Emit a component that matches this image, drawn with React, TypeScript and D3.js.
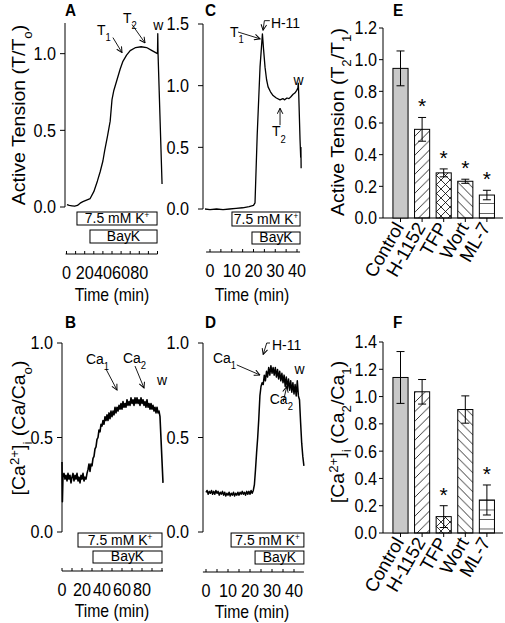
import React, { useEffect } from "react";
import * as d3 from "d3";

type Pt = [number, number];

const FONT = "Arial, 'Liberation Sans', Helvetica, sans-serif";
const SX = 0.9; // horizontal squeeze of the printed lettering

// ---------------- Data: time courses (time in min, normalised value) ----------------
const traceA: Pt[] = [
  [0.5, 0.015], [3, 0.01], [6, 0.008], [9, 0.005], [12, 0.01], [15, 0.025], [18, 0.035],
  [22, 0.045], [26, 0.055], [30, 0.1], [34, 0.17], [37, 0.23], [40, 0.3], [42, 0.37],
  [45, 0.46], [48, 0.56], [50, 0.7], [52, 0.76], [55.5, 0.83], [59, 0.9], [62, 0.95],
  [66, 0.99], [70, 1.02], [76, 1.04], [82, 1.045], [88, 1.04], [94, 1.02], [100, 1.0],
  [100.3, 1.13], [100.6, 1.0], [105, 0.15],
];

const traceB: Pt[] = [
  [0, 0.37], [0.4, 0.16], [1, 0.3], [2, 0.31], [3, 0.28], [4, 0.3], [5, 0.27], [6, 0.31], [7, 0.28],
  [8, 0.3], [9, 0.26], [10, 0.29], [11, 0.31], [12, 0.27], [13, 0.3], [14, 0.28], [15, 0.31],
  [16, 0.27], [17, 0.29], [18, 0.26], [19, 0.3], [20, 0.28], [21, 0.31], [22, 0.27], [23, 0.29],
  [24, 0.28], [25, 0.31], [26, 0.33], [27, 0.36], [28, 0.32], [29, 0.36], [30, 0.35], [31, 0.39],
  [32, 0.4], [33, 0.44], [34, 0.45], [35, 0.49], [36, 0.5], [37, 0.54], [38, 0.53], [39, 0.57],
  [40, 0.56], [41, 0.59], [42, 0.57], [43, 0.61], [44, 0.59], [45, 0.62], [46, 0.59], [47, 0.63],
  [48, 0.6], [49, 0.64], [50, 0.61], [51, 0.64], [52, 0.62], [53, 0.66], [54, 0.63], [55, 0.66],
  [56, 0.64], [57, 0.67], [58, 0.65], [59, 0.68], [60, 0.65], [61, 0.69], [62, 0.66], [63, 0.68],
  [64, 0.66], [65, 0.7], [66, 0.67], [67, 0.69], [68, 0.67], [69, 0.71], [70, 0.68], [71, 0.7],
  [72, 0.67], [73, 0.71], [74, 0.68], [75, 0.71], [76, 0.68], [77, 0.7], [78, 0.67], [79, 0.71],
  [80, 0.68], [81, 0.7], [82, 0.67], [83, 0.69], [84, 0.66], [85, 0.7], [86, 0.66], [87, 0.68],
  [88, 0.65], [89, 0.68], [90, 0.65], [91, 0.67], [92, 0.64], [93, 0.66], [94, 0.63], [95, 0.66],
  [96, 0.63], [97, 0.64], [98, 0.61], [101, 0.26],
];

const traceC: Pt[] = [
  [-2.3, 0.0], [0, -0.005], [3, 0.0], [6, -0.005], [9, 0.0], [12, 0.005], [15, 0.01], [18, 0.02],
  [20, 0.03], [20.7, 0.05], [21.7, 0.6], [23, 1.15], [24.1, 1.42], [24.6, 1.3], [25.3, 1.15],
  [26, 1.05], [26.7, 0.99], [27.8, 0.95], [29, 0.92], [30.5, 0.9], [32.2, 0.885], [33.5, 0.895],
  [34.2, 0.885], [35.4, 0.9], [36.3, 0.895], [37.2, 0.91], [38.2, 0.93], [39, 0.94], [39.8, 0.96],
  [40.4, 0.98], [40.6, 1.02], [40.8, 0.93], [41.4, 0.56], [41.7, 0.42], [41.8, 0.5], [41.9, 0.33],
];

const traceD: Pt[] = [
  [0, 0.21], [0.5, 0.22], [1, 0.2], [1.5, 0.215], [2, 0.205], [2.5, 0.22], [3, 0.2], [3.5, 0.215],
  [4, 0.2], [4.5, 0.22], [5, 0.205], [5.5, 0.215], [6, 0.195], [6.5, 0.21], [7, 0.2], [7.5, 0.215],
  [8, 0.195], [8.5, 0.21], [9, 0.19], [9.5, 0.205], [10, 0.195], [10.5, 0.21], [11, 0.19],
  [11.5, 0.205], [12, 0.195], [12.5, 0.21], [13, 0.19], [13.5, 0.205], [14, 0.195], [14.5, 0.21],
  [15, 0.195], [15.5, 0.21], [16, 0.2], [16.5, 0.215], [17, 0.2], [17.5, 0.21], [18, 0.195],
  [18.5, 0.215], [19, 0.2], [19.5, 0.215], [20, 0.2], [20.5, 0.22], [21, 0.205], [21.5, 0.22],
  [22, 0.25], [22.5, 0.33], [23, 0.42], [23.5, 0.5], [24, 0.6], [24.5, 0.72], [25, 0.77],
  [25.5, 0.79], [26, 0.78], [26.5, 0.83], [27, 0.8], [27.5, 0.85], [28, 0.82], [28.5, 0.87],
  [29, 0.83], [29.5, 0.88], [30, 0.84], [30.5, 0.87], [31, 0.83], [31.5, 0.87], [32, 0.82],
  [32.5, 0.86], [33, 0.81], [33.5, 0.85], [34, 0.8], [34.5, 0.84], [35, 0.79], [35.5, 0.83],
  [36, 0.77], [36.5, 0.82], [37, 0.76], [37.5, 0.81], [38, 0.75], [38.5, 0.8], [39, 0.74],
  [39.5, 0.79], [40, 0.73], [40.5, 0.78], [41, 0.72], [41.5, 0.8], [42, 0.72], [42.5, 0.7],
  [43, 0.58], [43.5, 0.47], [44, 0.4], [44.5, 0.35],
];

// treatment windows (min)
const kWinA: Pt = [11.5, 99.5];
const bayWinA: Pt = [25.8, 99.5];
const kWinB: Pt = [16, 100];
const bayWinB: Pt = [31, 100];
const kWinC: Pt = [10.1, 41.4];
const bayWinC: Pt = [19.3, 41.4];
const kWinD: Pt = [11.4, 44.5];
const bayWinD: Pt = [22.3, 44.5];

// axis ticks
const yTicksA = [0, 0.5, 1.0];
const yTicksB = [0, 0.5, 1.0];
const yTicksC = [0, 0.5, 1.0, 1.5];
const yTicksD = [0, 0.5, 1.0];
const tTicksLong = [0, 10, 20, 30, 40, 50, 60, 70, 80, 90, 100];
const tLabelsLong = [0, 20, 40, 60, 80];
const tTicksShort = [0, 5, 10, 15, 20, 25, 30, 35, 40];
const tLabelsShort = [0, 10, 20, 30, 40];

// ---------------- Data: bar summaries ----------------
const categories = ["Control", "H-1152", "TFP", "Wort", "ML-7"];
const tensionMean = [0.945, 0.56, 0.285, 0.232, 0.145];
const tensionErr = [0.11, 0.075, 0.025, 0.013, 0.03];
const tensionSig = [false, true, true, true, true];
const calciumMean = [1.14, 1.035, 0.12, 0.905, 0.242];
const calciumErr = [0.19, 0.09, 0.08, 0.1, 0.11];
const calciumSig = [false, false, true, false, true];
const yTicksE = [0, 0.2, 0.4, 0.6, 0.8, 1.0, 1.2];
const yTicksF = [0, 0.2, 0.4, 0.6, 0.8, 1.0, 1.2, 1.4];

// ---------------- Annotations (data coordinates) ----------------
type Note = { text: string; sub?: string; t: number; v: number; anchor?: string };
const notesA: Note[] = [
  { text: "T", sub: "1", t: 33.5, v: 1.124 },
  { text: "T", sub: "2", t: 62, v: 1.203 },
  { text: "w", t: 101, v: 1.157, anchor: "middle" },
];
const arrowsA: Pt[][] = [
  [[51, 1.105], [61, 1.007]],
  [[72, 1.19], [86.3, 1.07]],
];
const notesB: Note[] = [
  { text: "Ca", sub: "1", t: 24, v: 0.89 },
  { text: "Ca", sub: "2", t: 61, v: 0.894 },
  { text: "w", t: 100, v: 0.778, anchor: "middle" },
];
const arrowsB: Pt[][] = [
  [[44, 0.862], [55, 0.751]],
  [[73, 0.878], [82, 0.762]],
];
const notesC: Note[] = [
  { text: "T", sub: "1", t: 9.2, v: 1.395 },
  { text: "H-11", t: 28, v: 1.468 },
  { text: "w", t: 40.7, v: 1.006, anchor: "middle" },
  { text: "T", sub: "2", t: 28.5, v: 0.59 },
];
const arrowsC: Pt[][] = [
  [[12.9, 1.435], [23, 1.38]],
  [[27.5, 1.527], [25, 1.527], [24.4, 1.45]],
  [[32.2, 0.68], [32.2, 0.817]],
];
const notesD: Note[] = [
  { text: "Ca", sub: "1", t: 3.2, v: 0.894 },
  { text: "H-11", t: 30, v: 0.963 },
  { text: "w", t: 42.5, v: 0.836, anchor: "middle" },
  { text: "Ca", sub: "2", t: 29, v: 0.677 },
];
const arrowsD: Pt[][] = [
  [[14, 0.884], [24.5, 0.831]],
  [[29.1, 1.0], [27.6, 1.0], [26, 0.94]],
  [[35.1, 0.689], [36.7, 0.769]],
];

// ---------------- Components ----------------
function Sub({ children }: { children: React.ReactNode }) {
  return (
    <tspan baselineShift="sub" fontSize="68%">
      {children}
    </tspan>
  );
}
function Sup({ children }: { children: React.ReactNode }) {
  return (
    <tspan baselineShift="super" fontSize="68%">
      {children}
    </tspan>
  );
}

function HText(props: {
  x: number;
  y: number;
  size: number;
  anchor?: string;
  dy?: string;
  weight?: string;
  rotate?: number;
  children: React.ReactNode;
}) {
  const rot = props.rotate ? ` rotate(${props.rotate})` : "";
  return (
    <text
      transform={`translate(${props.x},${props.y}) scale(${SX},1)${rot}`}
      fontSize={props.size}
      textAnchor={props.anchor || "start"}
      dy={props.dy}
      fontWeight={props.weight}
    >
      {props.children}
    </text>
  );
}

type TraceProps = {
  trace: Pt[];
  yDomain: Pt;
  yRange: Pt;
  yAxisX: number;
  yTicks: number[];
  yLabelGap: number;
  tDomain: Pt;
  tRange: Pt;
  tAxisY: number;
  tAxisExtent: Pt;
  tTicks: number[];
  tLabels: number[];
  kWin: Pt;
  bayWin: Pt;
  kBoxY: Pt;
  bayBoxY: Pt;
  notes: Note[];
  arrows: Pt[][];
  letter: string;
  letterPos: Pt;
  yTitle: React.ReactNode;
  yTitlePos: Pt;
  tTitlePos: Pt;
  strokeW: number;
};

function TracePanel(p: TraceProps) {
  const y = d3.scaleLinear().domain(p.yDomain).range(p.yRange);
  const t = d3.scaleLinear().domain(p.tDomain).range(p.tRange);
  const line = d3
    .line<Pt>()
    .x((d) => t(d[0]))
    .y((d) => y(d[1]));
  const fmt = d3.format(".1f");
  return (
    <g>
      {/* y axis */}
      <line x1={p.yAxisX} x2={p.yAxisX} y1={y(p.yDomain[0])} y2={y(p.yDomain[1])} stroke="#000" strokeWidth={1} />
      {p.yTicks.map((v) => (
        <g key={v}>
          <line x1={p.yAxisX - 5} x2={p.yAxisX} y1={y(v)} y2={y(v)} stroke="#000" />
          <HText x={p.yAxisX - p.yLabelGap} y={y(v)} dy="0.36em" anchor="end" size={18}>
            {fmt(v)}
          </HText>
        </g>
      ))}
      {/* trace */}
      <path d={line(p.trace) || ""} fill="none" stroke="#000" strokeWidth={p.strokeW} strokeLinejoin="round" />
      {/* treatment boxes */}
      <rect x={t(p.kWin[0])} y={p.kBoxY[0]} width={t(p.kWin[1]) - t(p.kWin[0])} height={p.kBoxY[1] - p.kBoxY[0]} fill="#fff" stroke="#000" />
      <HText x={(t(p.kWin[0]) + t(p.kWin[1])) / 2} y={p.kBoxY[1] - 2} anchor="middle" size={15.5}>
        7.5 mM K<tspan baselineShift="super" fontSize="58%">+</tspan>
      </HText>
      <rect x={t(p.bayWin[0])} y={p.bayBoxY[0]} width={t(p.bayWin[1]) - t(p.bayWin[0])} height={p.bayBoxY[1] - p.bayBoxY[0]} fill="#fff" stroke="#000" />
      <HText x={(t(p.bayWin[0]) + t(p.bayWin[1])) / 2} y={p.bayBoxY[1] - 2} anchor="middle" size={15.5}>
        BayK
      </HText>
      {/* time axis */}
      <line x1={t(p.tAxisExtent[0])} x2={t(p.tAxisExtent[1])} y1={p.tAxisY} y2={p.tAxisY} stroke="#000" />
      {p.tTicks.map((v) => (
        <line key={v} x1={t(v)} x2={t(v)} y1={p.tAxisY} y2={p.tAxisY - 3} stroke="#000" />
      ))}
      {p.tLabels.map((v) => (
        <HText key={v} x={t(v)} y={p.tAxisY + 25} anchor="middle" size={18}>
          {v}
        </HText>
      ))}
      <HText x={p.tTitlePos[0]} y={p.tTitlePos[1]} anchor="middle" size={17.5}>
        Time (min)
      </HText>
      {/* annotations */}
      {p.notes.map((n, i) => (
        <HText key={i} x={t(n.t)} y={y(n.v)} anchor={n.anchor || "start"} size={15.5}>
          {n.text}
          {n.sub ? <Sub>{n.sub}</Sub> : null}
        </HText>
      ))}
      {p.arrows.map((a, i) => (
        <path key={i} d={line(a) || ""} fill="none" stroke="#000" strokeWidth={0.9} markerEnd="url(#arrowHead)" />
      ))}
      {/* panel letter & y title */}
      <HText x={p.letterPos[0]} y={p.letterPos[1]} size={17} weight="bold">
        {p.letter}
      </HText>
      {p.yTitle ? (
        <HText x={p.yTitlePos[0]} y={p.yTitlePos[1]} anchor="middle" dy="0.35em" size={19.5} rotate={-90}>
          {p.yTitle}
        </HText>
      ) : null}
    </g>
  );
}

type BarProps = {
  means: number[];
  errs: number[];
  sig: boolean[];
  yDomain: Pt;
  yRange: Pt;
  yTicks: number[];
  axisX: number;
  axisEnd: number;
  letter: string;
  letterPos: Pt;
  yTitle: React.ReactNode;
  yTitlePos: Pt;
  suffix: string;
};

const barFills = ["#c8c8c8", "url(#pFwd)", "url(#pCross)", "url(#pBack)", "url(#pHoriz)"];

function BarPanel(p: BarProps) {
  const y = d3.scaleLinear().domain(p.yDomain).range(p.yRange);
  const x = d3.scaleBand<string>().domain(categories).range([389.7, 497.7]).paddingInner(0.3).paddingOuter(0.15);
  const fmt = d3.format(".1f");
  const y0 = y(0);
  return (
    <g>
      <line x1={p.axisX} x2={p.axisX} y1={y(p.yDomain[0])} y2={y(p.yDomain[1])} stroke="#000" />
      {p.yTicks.map((v) => (
        <g key={v}>
          <line x1={p.axisX - 4} x2={p.axisX} y1={y(v)} y2={y(v)} stroke="#000" />
          <HText x={p.axisX - 6} y={y(v)} dy="0.36em" anchor="end" size={18}>
            {fmt(v)}
          </HText>
        </g>
      ))}
      <line x1={p.axisX} x2={p.axisEnd} y1={y0} y2={y0} stroke="#000" />
      {categories.map((c, i) => {
        const bx = x(c) as number;
        const bw = x.bandwidth();
        const cx = bx + bw / 2;
        const m = p.means[i];
        const e = p.errs[i];
        const fill = i === 4 ? `url(#pHoriz${p.suffix})` : barFills[i];
        return (
          <g key={c}>
            <rect x={bx} y={y(m)} width={bw} height={y0 - y(m)} fill={fill} stroke="#000" strokeWidth={1} />
            <line x1={cx} x2={cx} y1={y(m - e)} y2={y(m + e)} stroke="#000" />
            <line x1={cx - 4} x2={cx + 4} y1={y(m + e)} y2={y(m + e)} stroke="#000" />
            <line x1={cx - 4} x2={cx + 4} y1={y(m - e)} y2={y(m - e)} stroke="#000" />
            <line x1={cx} x2={cx} y1={y0} y2={y0 + 4} stroke="#000" />
            {p.sig[i] ? (
              <text x={cx} y={y(m + e) - 16 + 12} textAnchor="middle" fontSize={21}>
                *
              </text>
            ) : null}
            <text
              transform={`translate(${cx + 4},${y0 + 9}) rotate(-60)`}
              textAnchor="end"
              fontSize={18.5}
            >
              {c}
            </text>
          </g>
        );
      })}
      <HText x={p.letterPos[0]} y={p.letterPos[1]} size={17} weight="bold">
        {p.letter}
      </HText>
      <HText x={p.yTitlePos[0]} y={p.yTitlePos[1]} anchor="middle" dy="0.35em" size={19.5} rotate={-90}>
        {p.yTitle}
      </HText>
    </g>
  );
}

export default function App() {
  useEffect(() => {
    document.body.style.margin = "0";
  }, []);
  const caTitle = (a: string, b: string) => (
    <>
      <tspan>[Ca</tspan>
      <Sup>2+</Sup>
      <tspan>]</tspan>
      <Sub>i</Sub>
      <tspan> (Ca</tspan>
      {a ? <Sub>{a}</Sub> : null}
      <tspan>/Ca</tspan>
      <Sub>{b}</Sub>
      <tspan>)</tspan>
    </>
  );
  return (
    <svg
      width={505}
      height={623}
      viewBox="0 0 505 623"
      style={{ position: "absolute", left: 0, top: 0, background: "#fff" }}
      fontFamily={FONT}
    >
      <defs>
        <marker id="arrowHead" viewBox="0 0 10 10" refX="9" refY="5" markerWidth="7" markerHeight="7" orient="auto" markerUnits="userSpaceOnUse">
          <path d="M1,1 L9,5 L1,9" fill="none" stroke="#000" strokeWidth={1.4} />
        </marker>
        <pattern id="pFwd" patternUnits="userSpaceOnUse" width={9.5} height={9.5}>
          <path d="M-2,2 L2,-2 M0,9.5 L9.5,0 M7.5,11.5 L11.5,7.5" stroke="#000" strokeWidth={0.8} />
        </pattern>
        <pattern id="pBack" patternUnits="userSpaceOnUse" width={9.5} height={9.5}>
          <path d="M-2,7.5 L2,11.5 M0,0 L9.5,9.5 M7.5,-2 L11.5,2" stroke="#000" strokeWidth={0.8} />
        </pattern>
        <pattern id="pCross" patternUnits="userSpaceOnUse" width={9} height={9}>
          <path d="M-2,2 L2,-2 M0,9 L9,0 M7,11 L11,7 M-2,7 L2,11 M0,0 L9,9 M7,-2 L11,2" stroke="#000" strokeWidth={0.8} />
        </pattern>
        <pattern id="pHorizE" patternUnits="userSpaceOnUse" width={8} height={10} y={3}>
          <path d="M0,0 L8,0" stroke="#000" strokeWidth={1.2} />
        </pattern>
        <pattern id="pHorizF" patternUnits="userSpaceOnUse" width={8} height={9.5} y={6}>
          <path d="M0,0 L8,0" stroke="#000" strokeWidth={1.2} />
        </pattern>
      </defs>
      <rect width={505} height={623} fill="#fff" />

      <TracePanel
        trace={traceA}
        yDomain={[0, 1.2]}
        yRange={[207, 23]}
        yAxisX={65}
        yTicks={yTicksA}
        yLabelGap={9}
        tDomain={[0, 100]}
        tRange={[66.5, 157.5]}
        tAxisY={254}
        tAxisExtent={[-1, 100]}
        tTicks={tTicksLong}
        tLabels={tLabelsLong}
        kWin={kWinA}
        bayWin={bayWinA}
        kBoxY={[212, 225]}
        bayBoxY={[230, 243]}
        notes={notesA}
        arrows={arrowsA}
        letter="A"
        letterPos={[65, 16]}
        yTitle={
          <>
            <tspan>Active Tension (T/T</tspan>
            <Sub>o</Sub>
            <tspan>)</tspan>
          </>
        }
        yTitlePos={[19, 115]}
        tTitlePos={[112, 301]}
        strokeW={1.3}
      />
      <TracePanel
        trace={traceB}
        yDomain={[0, 1]}
        yRange={[532, 343]}
        yAxisX={62}
        yTicks={yTicksB}
        yLabelGap={9}
        tDomain={[0, 100]}
        tRange={[62, 162]}
        tAxisY={571}
        tAxisExtent={[0, 101]}
        tTicks={tTicksLong}
        tLabels={tLabelsLong}
        kWin={kWinB}
        bayWin={bayWinB}
        kBoxY={[533, 547]}
        bayBoxY={[551, 563]}
        notes={notesB}
        arrows={arrowsB}
        letter="B"
        letterPos={[65, 328]}
        yTitle={caTitle("", "o")}
        yTitlePos={[19, 428]}
        tTitlePos={[112, 617]}
        strokeW={1.6}
      />
      <TracePanel
        trace={traceC}
        yDomain={[0, 1.5]}
        yRange={[209, 24]}
        yAxisX={203}
        yTicks={yTicksC}
        yLabelGap={14}
        tDomain={[0, 40]}
        tRange={[210, 297]}
        tAxisY={252}
        tAxisExtent={[-1.8, 41.4]}
        tTicks={tTicksShort}
        tLabels={tLabelsShort}
        kWin={kWinC}
        bayWin={bayWinC}
        kBoxY={[212, 226]}
        bayBoxY={[232, 244]}
        notes={notesC}
        arrows={arrowsC}
        letter="C"
        letterPos={[205, 16]}
        yTitle={null}
        yTitlePos={[0, 0]}
        tTitlePos={[252, 301]}
        strokeW={1.3}
      />
      <TracePanel
        trace={traceD}
        yDomain={[0, 1]}
        yRange={[532, 343]}
        yAxisX={203}
        yTicks={yTicksD}
        yLabelGap={14}
        tDomain={[0, 40]}
        tRange={[206, 294]}
        tAxisY={572}
        tAxisExtent={[-1.4, 44.5]}
        tTicks={tTicksShort}
        tLabels={tLabelsShort}
        kWin={kWinD}
        bayWin={bayWinD}
        kBoxY={[533, 547]}
        bayBoxY={[551, 564]}
        notes={notesD}
        arrows={arrowsD}
        letter="D"
        letterPos={[205, 328]}
        yTitle={null}
        yTitlePos={[0, 0]}
        tTitlePos={[252, 618]}
        strokeW={1.5}
      />
      <BarPanel
        means={tensionMean}
        errs={tensionErr}
        sig={tensionSig}
        yDomain={[0, 1.2]}
        yRange={[218, 28]}
        yTicks={yTicksE}
        axisX={383}
        axisEnd={503}
        letter="E"
        letterPos={[393, 16]}
        yTitle={
          <>
            <tspan>Active Tension (T</tspan>
            <Sub>2</Sub>
            <tspan>/T</tspan>
            <Sub>1</Sub>
            <tspan>)</tspan>
          </>
        }
        yTitlePos={[338, 122]}
        suffix="E"
      />
      <BarPanel
        means={calciumMean}
        errs={calciumErr}
        sig={calciumSig}
        yDomain={[0, 1.4]}
        yRange={[533, 342]}
        yTicks={yTicksF}
        axisX={383}
        axisEnd={503}
        letter="F"
        letterPos={[393, 328]}
        yTitle={caTitle("2", "1")}
        yTitlePos={[338, 432]}
        suffix="F"
      />
    </svg>
  );
}
